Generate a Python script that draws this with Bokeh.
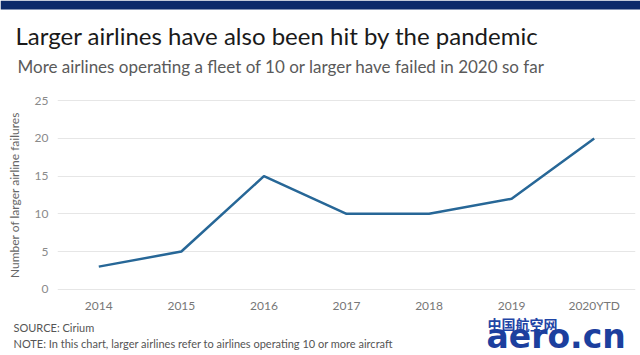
from bokeh.plotting import figure
from bokeh.layouts import column
from bokeh.models import Range1d, FixedTicker
from bokeh.core.properties import value
from bokeh.embed import file_html
from bokeh.resources import INLINE

years = ["2014", "2015", "2016", "2017", "2018", "2019", "2020YTD"]
failures = [3, 5, 15, 10, 10, 12, 20]
y_ticks = [0, 5, 10, 15, 20, 25]

title_text = "Larger airlines have also been hit by the pandemic"
subtitle_text = "More airlines operating a fleet of 10 or larger have failed in 2020 so far"
source_text = "SOURCE: Cirium"
note_text = "NOTE: In this chart, larger airlines refer to airlines operating 10 or more aircraft"
y_title = "Number of larger airline failures"
logo_cn = "中国航空网"
logo_en = "aero.cn"

FONT = "Lato"
W = 640
HEADER_H, MAIN_H = 90, 225
FOOTER_H = 355 - HEADER_H - MAIN_H


def blank(h):
    f = figure(width=W, height=h, x_range=Range1d(0, W), y_range=Range1d(h, 0),
               x_axis_type=None, y_axis_type=None, output_backend="svg",
               toolbar_location=None, min_border=0, frame_align=False)
    f.outline_line_color = None
    f.grid.visible = False
    f.background_fill_color = "white"
    f.border_fill_color = "white"
    return f


def txt(f, x, y, t, size, color, style="normal", font=FONT):
    f.text(x=[x], y=[y], text=[t], text_font=value(font), text_font_size=value(size),
           text_color=color, text_font_style=style, text_baseline="middle", text_align="left")


# ---- header ----
header = blank(HEADER_H)
header.quad(left=[0], right=[W], top=[0], bottom=[9], fill_color="#0c2a6a", line_color=None)
txt(header, 15, 35, title_text, "24px", "#1a1a1a")
txt(header, 17, 66, subtitle_text, "17px", "#5a5a5a")

# ---- main chart ----
p = figure(width=W, height=MAIN_H, x_range=years, y_range=Range1d(-0.3, 25.3),
           output_backend="svg", toolbar_location=None, frame_align=False,
           min_border_left=57, min_border_right=5, min_border_top=8, min_border_bottom=21)
p.outline_line_color = None
p.background_fill_color = "white"
p.border_fill_color = "white"
p.xgrid.grid_line_color = None
p.ygrid.grid_line_color = "#e6e6e6"
p.ygrid.grid_line_width = 1

p.yaxis.ticker = FixedTicker(ticks=y_ticks)
p.yaxis.axis_line_color = None
p.yaxis.major_tick_line_color = None
p.yaxis.minor_tick_line_color = None
p.yaxis.major_tick_out = 0
p.yaxis.major_label_standoff = 9
p.yaxis.major_label_text_font = FONT
p.yaxis.major_label_text_font_size = "12px"
p.yaxis.major_label_text_color = "#8a8a8a"
p.yaxis.axis_label = y_title
p.yaxis.axis_label_text_font = FONT
p.yaxis.axis_label_text_font_size = "12px"
p.yaxis.axis_label_text_font_style = "normal"
p.yaxis.axis_label_text_color = "#666666"
p.yaxis.axis_label_standoff = 10

p.xaxis.axis_line_color = None
p.xaxis.major_tick_line_color = None
p.xaxis.minor_tick_line_color = None
p.xaxis.major_tick_out = 0
p.xaxis.major_label_standoff = 6
p.xaxis.major_label_text_font = FONT
p.xaxis.major_label_text_font_size = "12px"
p.xaxis.major_label_text_color = "#777777"

p.line(years, failures, line_color="#276797", line_width=2.5, line_join="round")

# ---- footer ----
footer = blank(FOOTER_H)
txt(footer, 13, 12, source_text, "11px", "#555555")
txt(footer, 13, 28, note_text, "11px", "#555555")
txt(footer, 487, 8, logo_cn, "14px", "#1f45a6", "bold", "Noto Sans CJK SC")
txt(footer, 486, 21, logo_en, "33px", "#1c3f9e", "bold", "DejaVu Sans")

layout = column(header, p, footer, spacing=0)
open("out.html", "w").write(file_html(layout, INLINE))
